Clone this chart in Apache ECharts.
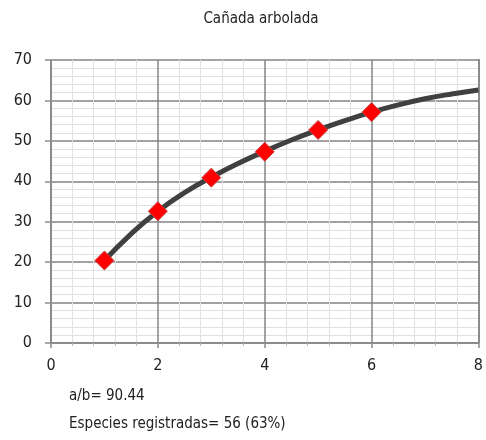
<!DOCTYPE html>
<html>
<head>
<meta charset="utf-8">
<script src="https://cdn.jsdelivr.net/npm/echarts@6/dist/echarts.min.js"></script>
<style>html,body{margin:0;padding:0;background:#fff;}#c{width:486px;height:440px;}</style>
</head>
<body>
<div id="c"></div>
<script>
var titleText = 'Cañada arbolada';
var noteLines = ['a/b= 90.44', 'Especies registradas= 56 (63%)'];
var sampleX = [1, 2, 3, 4, 5, 6];
var sampleY = [20.4, 32.6, 40.9, 47.3, 52.7, 57.1];
var curveX = [1, 1.5, 2, 2.5, 3, 3.5, 4, 4.5, 5, 5.5, 6, 6.5, 7, 7.5, 8];
var curveY = [20.4, 27.0, 32.6, 37.2, 41.0, 44.4, 47.4, 50.2, 52.7, 55.0, 57.1, 58.9, 60.4, 61.6, 62.6];

var FONT = '"DejaVu Sans Condensed", "Liberation Sans Narrow", sans-serif';
var chart = echarts.init(document.getElementById('c'), null, {renderer: 'canvas'});
chart.setOption({
  animation: false,
  backgroundColor: '#ffffff',
  title: {
    text: titleText, left: 256, top: 7, textAlign: 'center',
    textStyle: {fontFamily: FONT, fontSize: 15, fontWeight: 'normal', color: '#222'}
  },
  grid: {left: 51, right: 7, top: 60, bottom: 97},
  xAxis: {
    type: 'value', min: 0, max: 8, interval: 2,
    axisLine: {show: true, onZero: false, lineStyle: {color: '#8c8c8c', width: 2}},
    axisTick: {show: true, length: 5, lineStyle: {color: '#8c8c8c', width: 1.5}},
    minorTick: {show: true, splitNumber: 5, length: 3, lineStyle: {color: '#bbbbbb'}},
    axisLabel: {margin: 15, fontFamily: FONT, fontSize: 16, color: '#222'},
    splitLine: {show: true, lineStyle: {color: '#858585', width: 1.5}},
    minorSplitLine: {show: true, lineStyle: {color: '#e0e0e0', width: 1}}
  },
  yAxis: {
    type: 'value', min: 0, max: 70, interval: 10,
    axisLine: {show: true, onZero: false, lineStyle: {color: '#8c8c8c', width: 2}},
    axisTick: {show: true, length: 6, lineStyle: {color: '#8c8c8c', width: 1.5}},
    minorTick: {show: false, splitNumber: 5},
    axisLabel: {margin: 19, fontFamily: FONT, fontSize: 16, color: '#222'},
    splitLine: {show: true, lineStyle: {color: '#858585', width: 1.5}},
    minorSplitLine: {show: true, lineStyle: {color: '#e0e0e0', width: 1}}
  },
  graphic: [
    {type: 'text', left: 69, top: 389, style: {text: noteLines[0], fontFamily: FONT, fontSize: 15, fill: '#222'}},
    {type: 'text', left: 69, top: 417, style: {text: noteLines[1], fontFamily: FONT, fontSize: 15, fill: '#222'}},
    {type: 'rect', shape: {x: 478, y: 59, width: 2, height: 284}, style: {fill: '#8c8c8c'}, z: 1}
  ],
  series: [
    {
      type: 'line', smooth: true, showSymbol: false, symbol: 'none',
      data: curveX.map(function (x, i) { return [x, curveY[i]]; }),
      lineStyle: {color: '#404040', width: 5}, z: 3
    },
    {
      type: 'scatter', symbol: 'diamond', symbolSize: 19,
      data: sampleX.map(function (x, i) { return [x, sampleY[i]]; }),
      itemStyle: {color: '#ff0000', opacity: 1, borderColor: '#c84040', borderWidth: 1}, z: 4
    }
  ]
});
</script>
</body>
</html>
